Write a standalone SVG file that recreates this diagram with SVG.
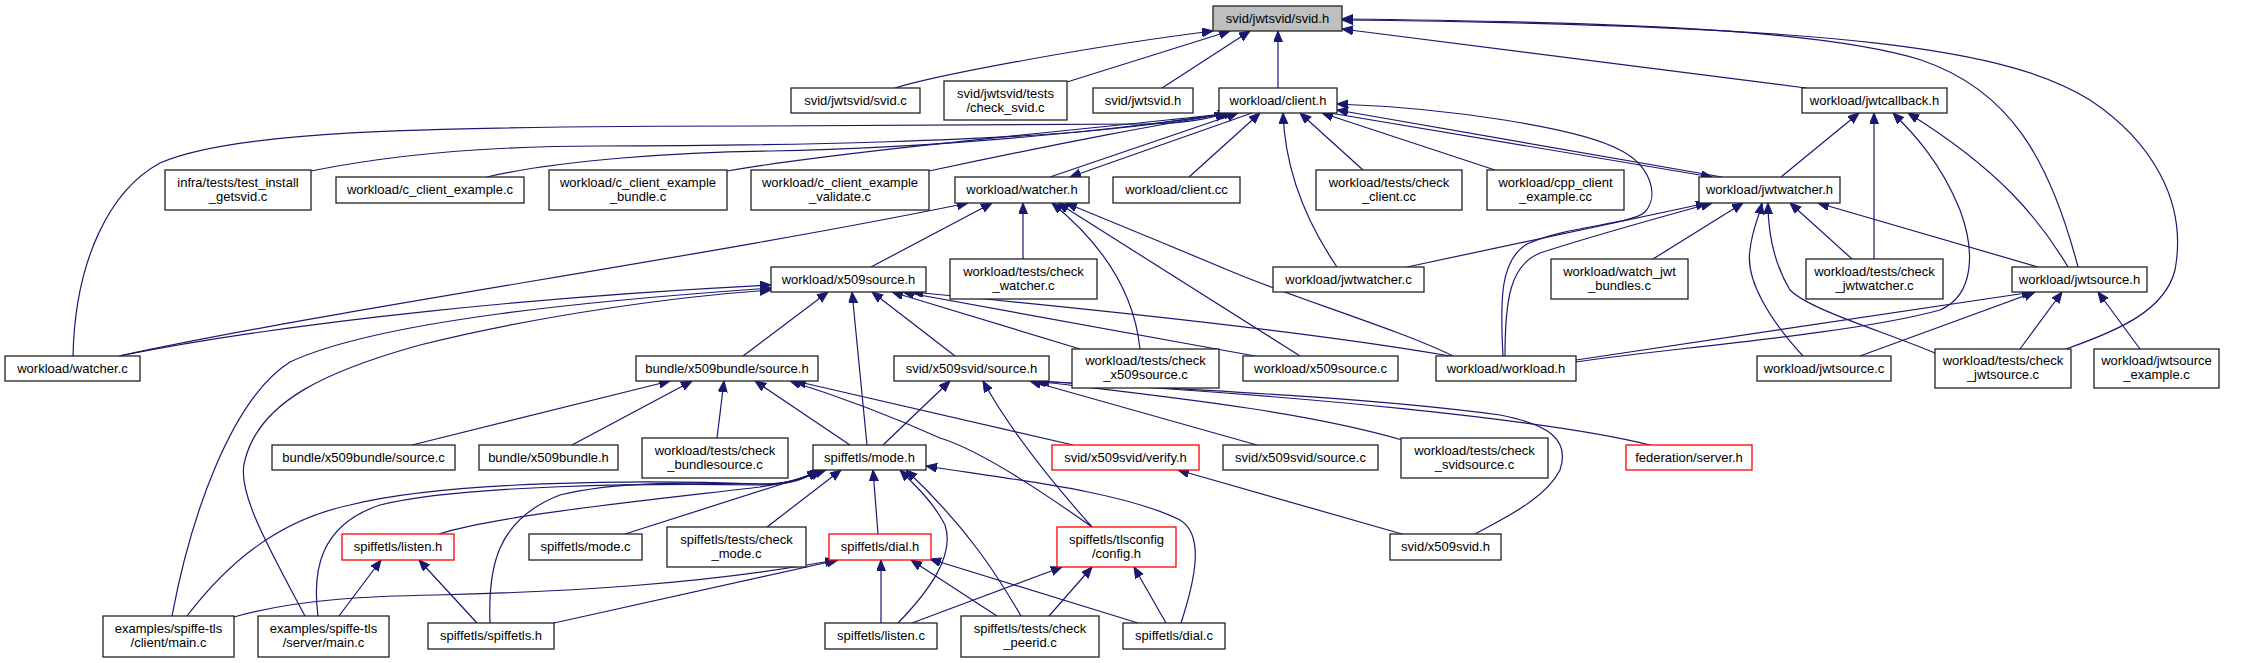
<svg xmlns="http://www.w3.org/2000/svg" width="2263" height="663" viewBox="0 0 2263 663">
<style>
.node rect{fill:#ffffff;stroke:#222222;stroke-width:1.3}
.node.root rect{fill:#bfbfbf}
.node.red rect{stroke:#ff0000}
.node text{font-family:"Liberation Sans",Arial,sans-serif;font-size:13px;fill:#000000;text-anchor:middle}
#edges path{fill:none;stroke:#191970;stroke-width:1.2;marker-end:url(#arr)}
</style>
<defs>
<marker id="arr" markerWidth="12" markerHeight="10" refX="11" refY="4.5" orient="auto" markerUnits="userSpaceOnUse">
<path d="M0,0 L11,4.5 L0,9 z" fill="#191970" stroke="#191970" stroke-width="1"/>
</marker>
</defs>
<rect x="0" y="0" width="2263" height="663" fill="#ffffff"/>
<g id="edges">
<path d="M895,88 C940,74 1100,45 1213,31"/>
<path d="M1067,82 L1230,31"/>
<path d="M1162,88 L1250,31"/>
<path d="M1278,88 L1278,31"/>
<path d="M1806,88 L1342,29"/>
<path d="M2078,267 C2050,160 2010,90 1921,60 C1830,32 1650,22 1342,19"/>
<path d="M2066,349 C2120,330 2165,310 2175,270 C2188,200 2150,140 2090,100 C2010,50 1850,25 1342,20"/>
<path d="M73,356 C75,260 110,190 160,163 C230,132 400,126 760,126 L1150,124 C1190,123 1212,118 1226,113"/>
<path d="M311,171 C400,153 500,146 600,146 C800,146 1000,140 1100,130 C1170,123 1210,116 1229,113"/>
<path d="M487,177 C560,160 680,152 770,151 C950,148 1130,128 1231,113"/>
<path d="M727,171 C850,150 1100,128 1233,113"/>
<path d="M929,171 C1050,145 1180,120 1235,113"/>
<path d="M1050,177 L1238,113"/>
<path d="M1252,113 L1070,177"/>
<path d="M1189,177 L1260,113"/>
<path d="M1337,267 C1305,220 1285,170 1283,113"/>
<path d="M1363,170 L1300,113"/>
<path d="M1495,170 L1322,113"/>
<path d="M1722,177 L1337,110"/>
<path d="M1330,113 L1712,177"/>
<path d="M1503,356 C1500,300 1500,260 1527,244 C1570,225 1630,225 1645,212 C1660,195 1650,165 1620,150 C1580,128 1450,108 1337,104"/>
<path d="M119,356 C330,310 700,258 968,203"/>
<path d="M871,267 L992,203"/>
<path d="M1023,259 L1023,203"/>
<path d="M1140,349 C1135,300 1110,250 1052,203"/>
<path d="M1300,356 L1058,203"/>
<path d="M1453,356 C1400,330 1300,300 1235,273 C1180,250 1120,225 1066,203"/>
<path d="M119,356 C300,320 550,296 771,285"/>
<path d="M172,616 C190,520 230,400 290,362 C380,320 600,300 771,288"/>
<path d="M305,616 C270,550 235,490 245,460 C260,400 330,370 420,345 C540,315 680,296 771,290"/>
<path d="M743,356 L828,292"/>
<path d="M867,445 L852,292"/>
<path d="M955,356 L872,292"/>
<path d="M1080,349 L892,292"/>
<path d="M1255,356 L903,292"/>
<path d="M1450,356 C1300,330 1050,305 912,292"/>
<path d="M1407,267 L1707,203"/>
<path d="M1505,356 C1505,300 1510,265 1540,253 C1580,240 1650,220 1712,203"/>
<path d="M1653,259 L1743,203"/>
<path d="M1803,356 C1770,320 1745,280 1750,250 C1752,230 1758,220 1762,203"/>
<path d="M1935,353 C1880,330 1810,310 1790,290 C1772,260 1768,230 1768,203"/>
<path d="M1852,259 L1790,203"/>
<path d="M2038,267 L1818,203"/>
<path d="M1781,177 L1859,113"/>
<path d="M1874,259 L1874,113"/>
<path d="M1576,362 C1650,350 1850,335 1940,310 C1975,295 1975,250 1960,210 C1940,160 1910,130 1893,113"/>
<path d="M1576,360 L2033,292"/>
<path d="M2068,267 C2040,220 2000,170 1908,113"/>
<path d="M1860,356 L2035,292"/>
<path d="M2020,349 L2062,292"/>
<path d="M2140,349 L2098,292"/>
<path d="M412,445 L670,381"/>
<path d="M572,445 L692,381"/>
<path d="M717,438 L724,381"/>
<path d="M850,445 L755,381"/>
<path d="M1092,527 C1040,490 980,450 940,438 C900,420 850,400 790,381"/>
<path d="M1073,445 L795,381"/>
<path d="M883,445 L950,381"/>
<path d="M1092,527 C1050,480 1010,430 983,381"/>
<path d="M1257,445 L1030,381"/>
<path d="M1402,440 C1300,410 1150,395 1035,381"/>
<path d="M1650,445 C1550,420 1300,395 1038,381"/>
<path d="M1475,534 C1500,520 1545,500 1560,470 C1570,440 1550,425 1500,415 C1350,395 1150,388 1033,381"/>
<path d="M1402,534 L1178,470"/>
<path d="M439,534 C500,515 650,500 760,487 C790,482 805,478 822,470"/>
<path d="M625,534 L826,470"/>
<path d="M767,527 L841,470"/>
<path d="M878,534 L873,470"/>
<path d="M898,623 C930,590 955,555 945,525 C935,505 920,490 900,470"/>
<path d="M1021,616 C1000,580 970,530 906,470"/>
<path d="M1181,623 C1195,580 1205,535 1180,520 C1120,490 1000,478 926,466"/>
<path d="M187,616 C230,560 280,520 350,505 C450,480 650,480 760,484 C790,484 805,478 818,470"/>
<path d="M318,616 C312,570 320,525 380,505 C460,485 650,483 760,485 C790,485 805,479 820,470"/>
<path d="M490,623 C488,570 495,520 560,495 C620,480 700,483 760,484 C790,484 806,478 821,470"/>
<path d="M339,616 L381,560"/>
<path d="M477,623 L419,560"/>
<path d="M234,617 C300,598 380,596 436,595 C560,592 700,585 836,560"/>
<path d="M554,623 L838,560"/>
<path d="M881,623 L881,560"/>
<path d="M997,616 L911,560"/>
<path d="M1138,623 L930,559"/>
<path d="M912,623 L1062,567"/>
<path d="M1049,616 L1092,567"/>
<path d="M1166,623 L1134,567"/>
</g>
<g id="n1" class="node root"><rect x="1213" y="6" width="129" height="25"/><text x="1277.5" y="22.5">svid/jwtsvid/svid.h</text></g>
<g id="n2" class="node"><rect x="791" y="88" width="129" height="25"/><text x="855.5" y="104.5">svid/jwtsvid/svid.c</text></g>
<g id="n3" class="node"><rect x="944" y="81" width="123" height="39"/><text x="1005.5" y="97.5">svid/jwtsvid/tests</text><text x="1005.5" y="111.5">/check_svid.c</text></g>
<g id="n4" class="node"><rect x="1093" y="88" width="100" height="25"/><text x="1143" y="104.5">svid/jwtsvid.h</text></g>
<g id="n5" class="node"><rect x="1219" y="88" width="118" height="25"/><text x="1278" y="104.5">workload/client.h</text></g>
<g id="n6" class="node"><rect x="1802" y="88" width="145" height="25"/><text x="1874.5" y="104.5">workload/jwtcallback.h</text></g>
<g id="n7" class="node"><rect x="165" y="170" width="146" height="40"/><text x="238" y="186.5">infra/tests/test_install</text><text x="238" y="200.5">_getsvid.c</text></g>
<g id="n8" class="node"><rect x="336" y="177" width="188" height="26"/><text x="430" y="194">workload/c_client_example.c</text></g>
<g id="n9" class="node"><rect x="549" y="170" width="178" height="40"/><text x="638" y="186.5">workload/c_client_example</text><text x="638" y="200.5">_bundle.c</text></g>
<g id="n10" class="node"><rect x="751" y="170" width="178" height="40"/><text x="840" y="186.5">workload/c_client_example</text><text x="840" y="200.5">_validate.c</text></g>
<g id="n11" class="node"><rect x="955" y="177" width="134" height="26"/><text x="1022" y="194">workload/watcher.h</text></g>
<g id="n12" class="node"><rect x="1113" y="177" width="127" height="26"/><text x="1176.5" y="194">workload/client.cc</text></g>
<g id="n13" class="node"><rect x="1316" y="170" width="146" height="40"/><text x="1389" y="186.5">workload/tests/check</text><text x="1389" y="200.5">_client.cc</text></g>
<g id="n14" class="node"><rect x="1487" y="170" width="137" height="40"/><text x="1555.5" y="186.5">workload/cpp_client</text><text x="1555.5" y="200.5">_example.cc</text></g>
<g id="n15" class="node"><rect x="1699" y="177" width="141" height="26"/><text x="1769.5" y="194">workload/jwtwatcher.h</text></g>
<g id="n16" class="node"><rect x="5" y="356" width="135" height="25"/><text x="72.5" y="372.5">workload/watcher.c</text></g>
<g id="n17" class="node"><rect x="771" y="267" width="155" height="25"/><text x="848.5" y="283.5">workload/x509source.h</text></g>
<g id="n18" class="node"><rect x="950" y="259" width="147" height="40"/><text x="1023.5" y="275.5">workload/tests/check</text><text x="1023.5" y="289.5">_watcher.c</text></g>
<g id="n19" class="node"><rect x="1273" y="267" width="151" height="25"/><text x="1348.5" y="283.5">workload/jwtwatcher.c</text></g>
<g id="n20" class="node"><rect x="1551" y="259" width="137" height="40"/><text x="1619.5" y="275.5">workload/watch_jwt</text><text x="1619.5" y="289.5">_bundles.c</text></g>
<g id="n21" class="node"><rect x="1806" y="259" width="137" height="40"/><text x="1874.5" y="275.5">workload/tests/check</text><text x="1874.5" y="289.5">_jwtwatcher.c</text></g>
<g id="n22" class="node"><rect x="2012" y="267" width="135" height="25"/><text x="2079.5" y="283.5">workload/jwtsource.h</text></g>
<g id="n23" class="node"><rect x="636" y="356" width="182" height="25"/><text x="727" y="372.5">bundle/x509bundle/source.h</text></g>
<g id="n24" class="node"><rect x="894" y="356" width="155" height="25"/><text x="971.5" y="372.5">svid/x509svid/source.h</text></g>
<g id="n25" class="node"><rect x="1072" y="349" width="147" height="39"/><text x="1145.5" y="365">workload/tests/check</text><text x="1145.5" y="379">_x509source.c</text></g>
<g id="n26" class="node"><rect x="1243" y="356" width="155" height="25"/><text x="1320.5" y="372.5">workload/x509source.c</text></g>
<g id="n27" class="node"><rect x="1436" y="356" width="140" height="25"/><text x="1506" y="372.5">workload/workload.h</text></g>
<g id="n28" class="node"><rect x="1757" y="356" width="134" height="25"/><text x="1824" y="372.5">workload/jwtsource.c</text></g>
<g id="n29" class="node"><rect x="1935" y="349" width="136" height="39"/><text x="2003" y="365">workload/tests/check</text><text x="2003" y="379">_jwtsource.c</text></g>
<g id="n30" class="node"><rect x="2094" y="349" width="125" height="39"/><text x="2156.5" y="365">workload/jwtsource</text><text x="2156.5" y="379">_example.c</text></g>
<g id="n31" class="node"><rect x="272" y="445" width="183" height="25"/><text x="363.5" y="461.5">bundle/x509bundle/source.c</text></g>
<g id="n32" class="node"><rect x="479" y="445" width="139" height="25"/><text x="548.5" y="461.5">bundle/x509bundle.h</text></g>
<g id="n33" class="node"><rect x="642" y="438" width="146" height="40"/><text x="715" y="454.5">workload/tests/check</text><text x="715" y="468.5">_bundlesource.c</text></g>
<g id="n34" class="node"><rect x="813" y="445" width="113" height="25"/><text x="869.5" y="461.5">spiffetls/mode.h</text></g>
<g id="n35" class="node red"><rect x="1052" y="445" width="147" height="25"/><text x="1125.5" y="461.5">svid/x509svid/verify.h</text></g>
<g id="n36" class="node"><rect x="1223" y="445" width="155" height="25"/><text x="1300.5" y="461.5">svid/x509svid/source.c</text></g>
<g id="n37" class="node"><rect x="1401" y="438" width="147" height="40"/><text x="1474.5" y="454.5">workload/tests/check</text><text x="1474.5" y="468.5">_svidsource.c</text></g>
<g id="n38" class="node red"><rect x="1626" y="445" width="126" height="25"/><text x="1689" y="461.5">federation/server.h</text></g>
<g id="n39" class="node red"><rect x="342" y="534" width="112" height="26"/><text x="398" y="551">spiffetls/listen.h</text></g>
<g id="n40" class="node"><rect x="529" y="534" width="113" height="26"/><text x="585.5" y="551">spiffetls/mode.c</text></g>
<g id="n41" class="node"><rect x="667" y="527" width="139" height="40"/><text x="736.5" y="543.5">spiffetls/tests/check</text><text x="736.5" y="557.5">_mode.c</text></g>
<g id="n42" class="node red"><rect x="829" y="534" width="102" height="26"/><text x="880" y="551">spiffetls/dial.h</text></g>
<g id="n43" class="node red"><rect x="1057" y="527" width="119" height="40"/><text x="1116.5" y="543.5">spiffetls/tlsconfig</text><text x="1116.5" y="557.5">/config.h</text></g>
<g id="n44" class="node"><rect x="1390" y="534" width="111" height="26"/><text x="1445.5" y="551">svid/x509svid.h</text></g>
<g id="n45" class="node"><rect x="103" y="616" width="131" height="41"/><text x="168.5" y="633">examples/spiffe-tls</text><text x="168.5" y="647">/client/main.c</text></g>
<g id="n46" class="node"><rect x="258" y="616" width="131" height="41"/><text x="323.5" y="633">examples/spiffe-tls</text><text x="323.5" y="647">/server/main.c</text></g>
<g id="n47" class="node"><rect x="428" y="623" width="126" height="26"/><text x="491" y="640">spiffetls/spiffetls.h</text></g>
<g id="n48" class="node"><rect x="825" y="623" width="112" height="26"/><text x="881" y="640">spiffetls/listen.c</text></g>
<g id="n49" class="node"><rect x="961" y="616" width="138" height="41"/><text x="1030" y="633">spiffetls/tests/check</text><text x="1030" y="647">_peerid.c</text></g>
<g id="n50" class="node"><rect x="1123" y="623" width="102" height="26"/><text x="1174" y="640">spiffetls/dial.c</text></g>
</svg>
